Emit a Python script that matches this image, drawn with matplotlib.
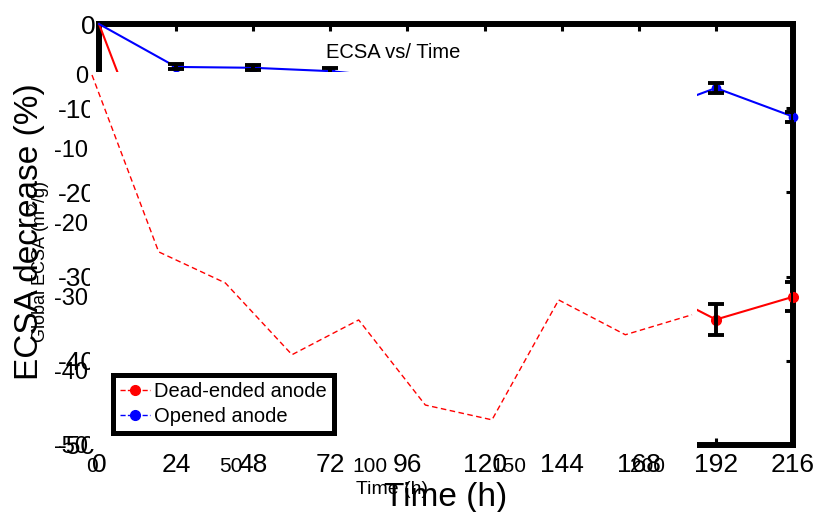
import matplotlib
matplotlib.use("Agg")
import matplotlib.pyplot as plt
from matplotlib.lines import Line2D
import numpy as np

plt.rcParams['font.family'] = ['Liberation Sans', 'DejaVu Sans']
plt.rcParams['axes.unicode_minus'] = False

# ---- data ----
time_h = [0, 24, 48, 72, 96, 120, 144, 168, 192, 216]
dead_ended = [0, -23.9, -28.1, -37.8, -33.1, -44.6, -46.6, -30.4, -35.1, -32.4]
dead_err = [0, 1.5, 1.5, 2.0, 2.0, 2.0, 2.0, 2.0, 1.8, 1.7]
opened = [0, -5.1, -5.2, -5.6, -6.5, -8.0, -9.5, -11.0, -7.6, -11.0]
opened_err = [0, 0.3, 0.3, 0.4, 0.5, 0.5, 0.5, 0.5, 0.6, 0.6]

main_xticks = [0, 24, 48, 72, 96, 120, 144, 168, 192, 216]
yticks = [0, -10, -20, -30, -40, -50]
cover_xticks = [0, 50, 100, 150, 200]
labels = ["Dead-ended anode", "Opened anode"]

W, H = 816, 512
def fx(px): return px / W
def fy(py): return 1 - py / H

fig = plt.figure(figsize=(8.16, 5.12), dpi=100)
fig.patch.set_facecolor('white')

# ---- main (thick-frame) axes ----
ax = fig.add_axes([fx(99), fy(445), (793 - 99) / W, (445 - 24) / H])
ax.set_zorder(0)
ax.set_xlim(0, 216)
ax.set_ylim(-50, 0)
for sp in ax.spines.values():
    sp.set_linewidth(4.3)
    sp.set_color('black')
ax.set_xticks(main_xticks)
ax.set_yticks(yticks)
ax.tick_params(direction='in', length=5, width=2.2, top=True, right=True,
               labelsize=19, colors='black')
ax.tick_params(axis='x', pad=5.5)
ax.tick_params(axis='y', pad=2.5)

ax.plot(time_h, dead_ended, '-', color='red', lw=1.5, marker='o', ms=7,
        markevery=slice(1, None), zorder=3, clip_on=False)
ax.plot(time_h, opened, '-', color='blue', lw=1.5, marker='o', ms=6,
        markevery=slice(1, None), zorder=3, clip_on=False)
ax.errorbar(time_h[1:], dead_ended[1:], yerr=dead_err[1:], fmt='none',
            ecolor='black', elinewidth=2.8, capsize=5.5, capthick=2.8, zorder=4)
ax.errorbar(time_h[1:], opened[1:], yerr=opened_err[1:], fmt='none',
            ecolor='black', elinewidth=2.8, capsize=5.5, capthick=2.8, zorder=4)

# ---- overlaid (white) axes ----
cx0 = 92.0
cscale = 600.0 / 216.0
cy0 = 75.0
cyscale = 7.4
L, R, T, B = 90, 697, 72, 449
cov = fig.add_axes([fx(L), fy(B), (R - L) / W, (B - T) / H])
cov.set_zorder(1)
cov.set_facecolor('white')
cov.set_xlim((L - cx0) / cscale, (R - cx0) / cscale)
cov.set_ylim(-(B - cy0) / cyscale, -(T - cy0) / cyscale)
for sp in cov.spines.values():
    sp.set_visible(False)
cov.set_xticks(cover_xticks)
cov.set_yticks(yticks)
cov.tick_params(length=0, colors='black')
cov.tick_params(axis='x', pad=5.5, labelsize=15)
cov.tick_params(axis='y', pad=1.5, labelsize=17)
cov.plot(time_h, dead_ended, color='red', lw=1.0, linestyle=(0, (4, 2.5)))

# ---- texts ----
fig.text(fx(30), fy(232), "ECSA decrease (%)", rotation=90, ha='center',
         va='center', fontsize=24, zorder=3)
fig.text(fx(40), fy(262), "Global ECSA (m$^2$/g)", rotation=90, ha='center',
         va='center', fontsize=13, zorder=3)
fig.text(fx(393), fy(52), "ECSA vs/ Time", ha='center', va='center',
         fontsize=14.5, zorder=3)
fig.text(fx(392), fy(494), "Time (h)", ha='center', va='baseline',
         fontsize=14, zorder=3)
fig.text(fx(446), fy(506), "Time (h)", ha='center', va='baseline',
         fontsize=24, zorder=3)

# ---- legend ----
handles = [Line2D([], [], color='red', ls='--', lw=1, marker='o', ms=7),
           Line2D([], [], color='blue', ls='--', lw=1, marker='o', ms=7)]
leg = fig.legend(handles, labels, loc='upper left',
                 bbox_to_anchor=(fx(113), fy(375)), fontsize=14.5,
                 frameon=True, fancybox=False, borderaxespad=0,
                 handlelength=1.5, handletextpad=0.2, borderpad=0.35,
                 labelspacing=0.3, framealpha=1)
leg.get_frame().set_edgecolor('black')
leg.get_frame().set_linewidth(3.6)
leg.set_zorder(6)

fig.savefig("out.png", dpi=100)
